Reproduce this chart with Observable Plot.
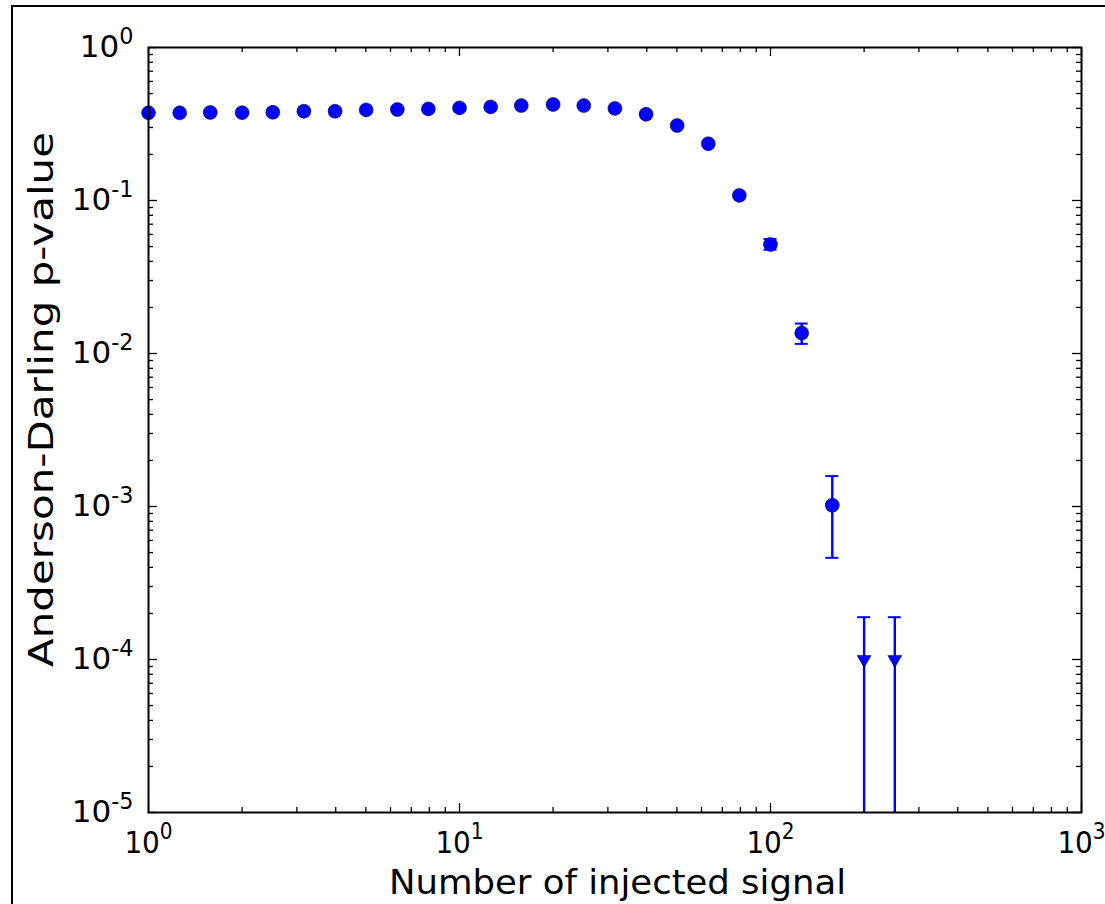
<!DOCTYPE html>
<html>
<head>
<meta charset="utf-8">
<script src="https://cdn.jsdelivr.net/npm/d3@7"></script>
<script src="https://cdn.jsdelivr.net/npm/@observablehq/plot@0.6"></script>
<style>
  body { margin: 0; background: #fff; }
  #wrap { position: relative; width: 1105px; height: 904px; overflow: hidden; background: #fff; }
  #chart { position: absolute; left: 0; top: 0; }
  #border { position: absolute; left: 11px; top: 5px; width: 1200px; height: 1000px;
            border-top: 2px solid #000; border-left: 2px solid #000; pointer-events: none; }
</style>
</head>
<body>
<div id="wrap"><div id="chart"></div><div id="border"></div></div>
<script>
// ---- data ----
const signal = [1, 1.26, 1.58, 2.0, 2.51, 3.16, 3.98, 5.01, 6.31, 7.94,
                10, 12.6, 15.8, 20.0, 25.1, 31.6, 39.8, 50.1, 63.1, 79.4,
                100, 126, 158, 200, 251];
const pvalue = [0.374, 0.374, 0.376, 0.375, 0.377, 0.383, 0.383, 0.391, 0.393, 0.397,
                0.403, 0.409, 0.417, 0.424, 0.417, 0.400, 0.366, 0.309, 0.235, 0.108,
                0.0516, 0.0136, 0.00102, 0.0001, 0.0001];
const errLow  = [null, null, null, null, null, null, null, null, null, null,
                 null, null, null, null, null, null, null, null, null, null,
                 0.0477, 0.01156, 0.000462, 0.00001, 0.00001];
const errHigh = [null, null, null, null, null, null, null, null, null, null,
                 null, null, null, null, null, null, null, null, null, null,
                 0.056, 0.0157, 0.00158, 0.000189, 0.000189];
const upperLimit = [false, false, false, false, false, false, false, false, false, false,
                    false, false, false, false, false, false, false, false, false, false,
                    false, false, false, true, true];

const xMajor = [1, 10, 100, 1000];
const yMajor = [1e-5, 1e-4, 1e-3, 1e-2, 1e-1, 1];
const minorMult = [2, 3, 4, 5, 6, 7, 8, 9];
const xMinor = xMajor.slice(0, -1).flatMap(d => minorMult.map(m => d * m));
const yMinor = yMajor.slice(0, -1).flatMap(d => minorMult.map(m => d * m));

const xLabel = "Number of injected signal";
const yLabel = "Anderson-Darling p-value";

const rows = signal.map((s, i) => ({
  x: s, y: pvalue[i], lo: errLow[i], hi: errHigh[i], limit: upperLimit[i]
}));
const errRows = rows.filter(d => d.lo != null);
const points = rows.filter(d => !d.limit);
const limits = rows.filter(d => d.limit);

// ---- layout ----
const W = 1105, H = 904;
const mL = 148, mR = 24, mT = 47, mB = 92;
const plotH = H - mT - mB, plotW = W - mL - mR;
const blue = "#0000ff";
const majLen = 9, minLen = 5, tickW = 1.3;
const fmt = d => "10^" + Math.round(Math.log10(d));
const tickStyle = { stroke: "#000", strokeWidth: tickW };

const chart = Plot.plot({
  width: W, height: H,
  marginLeft: mL, marginRight: mR, marginTop: mT, marginBottom: mB,
  style: { fontFamily: "DejaVu Sans", fontSize: "31px", color: "#000", background: "#fff", overflow: "visible" },
  x: { type: "log", domain: [1, 1000], ticks: xMajor, tickFormat: fmt, tickSize: 0, tickPadding: 18, label: null },
  y: { type: "log", domain: [1e-5, 1], ticks: yMajor, tickFormat: fmt, tickSize: 0, tickPadding: 15, label: null },
  marks: [
    // inward ticks on all four sides
    Plot.ruleX(xMajor, { insetTop: plotH - majLen, ...tickStyle }),
    Plot.ruleX(xMajor, { insetBottom: plotH - majLen, ...tickStyle }),
    Plot.ruleX(xMinor, { insetTop: plotH - minLen, ...tickStyle }),
    Plot.ruleX(xMinor, { insetBottom: plotH - minLen, ...tickStyle }),
    Plot.ruleY(yMajor, { insetRight: plotW - majLen, ...tickStyle }),
    Plot.ruleY(yMajor, { insetLeft: plotW - majLen, ...tickStyle }),
    Plot.ruleY(yMinor, { insetRight: plotW - minLen, ...tickStyle }),
    Plot.ruleY(yMinor, { insetLeft: plotW - minLen, ...tickStyle }),
    // error bars
    Plot.ruleX(errRows, { x: "x", y1: "lo", y2: "hi", stroke: blue, strokeWidth: 2.4 }),
    // markers
    Plot.dot(points, { x: "x", y: "y", r: 7, fill: blue, stroke: "#000", strokeWidth: 0.5 }),
    Plot.dot(limits, { x: "x", y: "y", r: 5.2, symbol: "triangle", rotate: 180, fill: blue, stroke: "#000", strokeWidth: 0.5 }),
    // caps
    Plot.ruleY(errRows, { y: "hi", x1: "x", x2: "x", insetLeft: -6.5, insetRight: -6.5, stroke: blue, strokeWidth: 2 }),
    Plot.ruleY(errRows.filter(d => !d.limit), { y: "lo", x1: "x", x2: "x", insetLeft: -6.5, insetRight: -6.5, stroke: blue, strokeWidth: 2 }),
    Plot.frame({ stroke: "#000", strokeWidth: 2 })
  ]
});

document.getElementById("chart").appendChild(chart);

// superscript tick labels
d3.select(chart).selectAll("text")
  .filter(function () { return /^10\^/.test(this.textContent); })
  .each(function () {
    const t = d3.select(this);
    const isX = this.closest('[aria-label^="x-axis"]') != null;
    const [b, e] = t.text().split("^");
    t.text(null);
    if (isX) t.attr("font-family", "DejaVu Sans Condensed, DejaVu Sans").style("font-stretch", "condensed");
    t.append("tspan").text(b);
    t.append("tspan").attr("dy", "-0.6em").attr("font-size", "0.72em").text(e);
  });

// axis titles
const svg = d3.select(chart);
svg.append("text")
  .attr("x", mL + plotW / 2 + 3).attr("y", H - 10)
  .attr("text-anchor", "middle")
  .attr("font-family", "DejaVu Sans").attr("font-size", 33).attr("fill", "#000")
  .attr("textLength", 457).attr("lengthAdjust", "spacingAndGlyphs")
  .text(xLabel);
svg.append("text")
  .attr("transform", `translate(53, ${mT + plotH / 2 - 30}) rotate(-90)`)
  .attr("text-anchor", "middle")
  .attr("font-family", "DejaVu Sans").attr("font-size", 34).attr("fill", "#000")
  .attr("textLength", 535).attr("lengthAdjust", "spacingAndGlyphs")
  .text(yLabel);
</script>
</body>
</html>
